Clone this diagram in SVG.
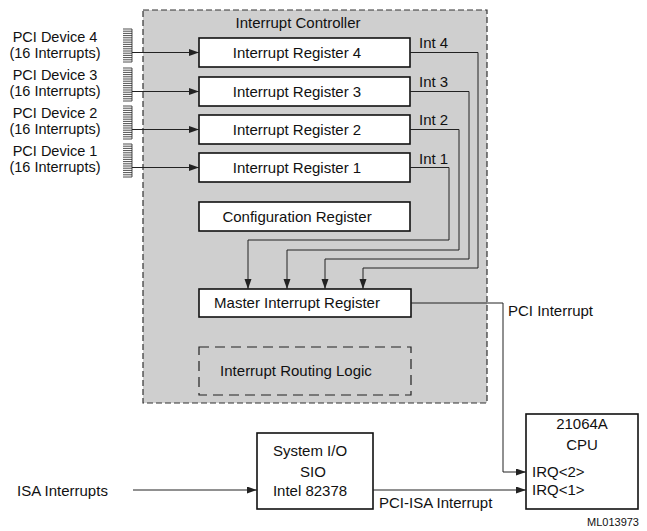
<svg xmlns="http://www.w3.org/2000/svg" xmlns:xlink="http://www.w3.org/1999/xlink" width="647" height="531" viewBox="0 0 647 531">
  <style>
    text { font-family: "Liberation Sans", Arial, sans-serif; font-size: 15px; fill: #111; }
    .mid { text-anchor: middle; }
    .dev { font-size: 14.5px; text-anchor: middle; }
    .box { fill: #fff; stroke: #111; stroke-width: 1.6; }
    .wire { fill: none; stroke: #222; stroke-width: 1; }
    .tick { fill: none; stroke: #222; stroke-width: 0.8; }
  </style>
  <defs>
    <marker id="arrow" markerUnits="userSpaceOnUse" markerWidth="11" markerHeight="8" refX="10" refY="3.5" orient="auto">
      <path d="M0,0 L10,3.5 L0,7 z" fill="#222"/>
    </marker>
    <!-- 16-line interrupt bus comb -->
    <path id="comb" class="tick" d="M132 0V33 M123 0H132 M123 2.2H132 M123 4.4H132 M123 6.6H132 M123 8.8H132 M123 11H132 M123 13.2H132 M123 15.4H132 M123 17.6H132 M123 19.8H132 M123 22H132 M123 24.2H132 M123 26.4H132 M123 28.6H132 M123 30.8H132 M123 33H132"/>
  </defs>

  <rect width="647" height="531" fill="#fff"/>

  <!-- Interrupt controller enclosure -->
  <g id="controller">
    <rect x="143" y="10" width="344" height="393" fill="#cfcfcf" stroke="#333" stroke-width="1.2" stroke-dasharray="6 3"/>
    <text class="mid" x="298" y="28">Interrupt Controller</text>
  </g>

  <!-- PCI device sources -->
  <g id="dev4">
    <text class="dev" x="55" y="41.5">PCI Device 4</text>
    <text class="dev" x="55" y="57.8">(16 Interrupts)</text>
    <use xlink:href="#comb" y="29"/>
  </g>
  <g id="dev3">
    <text class="dev" x="55" y="79.5">PCI Device 3</text>
    <text class="dev" x="55" y="95.8">(16 Interrupts)</text>
    <use xlink:href="#comb" y="68"/>
  </g>
  <g id="dev2">
    <text class="dev" x="55" y="117.5">PCI Device 2</text>
    <text class="dev" x="55" y="133.8">(16 Interrupts)</text>
    <use xlink:href="#comb" y="106"/>
  </g>
  <g id="dev1">
    <text class="dev" x="55" y="155.5">PCI Device 1</text>
    <text class="dev" x="55" y="171.8">(16 Interrupts)</text>
    <use xlink:href="#comb" y="144"/>
  </g>

  <!-- Registers -->
  <g id="reg4">
    <rect class="box" x="199" y="38" width="211" height="29"/>
    <text class="mid" x="297" y="58">Interrupt Register 4</text>
  </g>
  <g id="reg3">
    <rect class="box" x="199" y="77" width="211" height="29"/>
    <text class="mid" x="297" y="97">Interrupt Register 3</text>
  </g>
  <g id="reg2">
    <rect class="box" x="199" y="115" width="211" height="29"/>
    <text class="mid" x="297" y="135">Interrupt Register 2</text>
  </g>
  <g id="reg1">
    <rect class="box" x="199" y="153" width="211" height="29"/>
    <text class="mid" x="297" y="173">Interrupt Register 1</text>
  </g>
  <g id="config">
    <rect class="box" x="199" y="202" width="211" height="29"/>
    <text class="mid" x="297" y="222">Configuration Register</text>
  </g>
  <g id="master">
    <rect class="box" x="199" y="289" width="212" height="28"/>
    <text class="mid" x="297" y="308">Master Interrupt Register</text>
  </g>
  <g id="routing">
    <rect x="199" y="347" width="212" height="48" fill="none" stroke="#222" stroke-width="1.2" stroke-dasharray="10 6"/>
    <text class="mid" x="296" y="376">Interrupt Routing Logic</text>
  </g>

  <!-- Processor side -->
  <g id="sio">
    <rect class="box" x="257" y="433" width="116" height="76"/>
    <text class="mid" x="310" y="456">System I/O</text>
    <text class="mid" x="313" y="477">SIO</text>
    <text class="mid" x="310" y="496">Intel 82378</text>
  </g>
  <g id="cpu">
    <rect class="box" x="526" y="414" width="112" height="95"/>
    <text class="mid" x="582" y="429">21064A</text>
    <text class="mid" x="582" y="450">CPU</text>
    <text x="532" y="477">IRQ&lt;2&gt;</text>
    <text x="532" y="495">IRQ&lt;1&gt;</text>
  </g>

  <!-- Connectors -->
  <g id="connectors">
    <path class="wire" d="M132 52.5H199" marker-end="url(#arrow)"/>
    <path class="wire" d="M132 91.5H199" marker-end="url(#arrow)"/>
    <path class="wire" d="M132 129.5H199" marker-end="url(#arrow)"/>
    <path class="wire" d="M132 167.5H199" marker-end="url(#arrow)"/>

    <path class="wire" d="M410 52.5H478V268H363V289" marker-end="url(#arrow)"/>
    <path class="wire" d="M410 91.5H469V259H325V289" marker-end="url(#arrow)"/>
    <path class="wire" d="M410 129.5H459V250H287V289" marker-end="url(#arrow)"/>
    <path class="wire" d="M410 167.5H449V240H248V289" marker-end="url(#arrow)"/>

    <path class="wire" d="M411 303H503V472H526" marker-end="url(#arrow)"/>
    <path class="wire" d="M373 490H526" marker-end="url(#arrow)"/>
    <path class="wire" d="M133 490H257" marker-end="url(#arrow)"/>

    <text x="419" y="48">Int 4</text>
    <text x="419" y="87">Int 3</text>
    <text x="419" y="125">Int 2</text>
    <text x="419" y="164">Int 1</text>
    <text x="508" y="316">PCI Interrupt</text>
    <text x="379" y="508">PCI-ISA Interrupt</text>
    <text x="17" y="496">ISA Interrupts</text>
  </g>

  <text x="639" y="526" style="font-size:11px; text-anchor:end">ML013973</text>
</svg>
